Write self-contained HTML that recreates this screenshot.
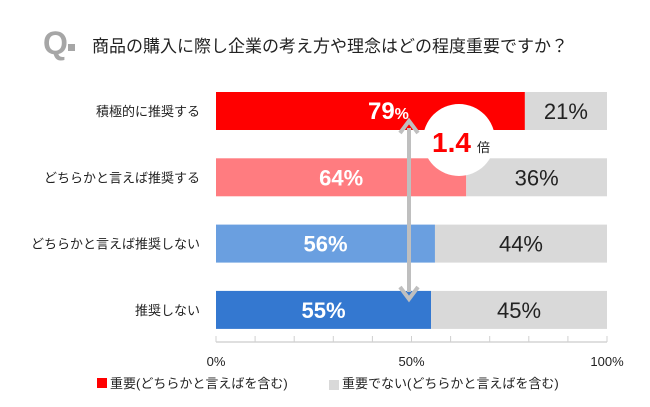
<!DOCTYPE html>
<html><head><meta charset="utf-8"><style>
body{margin:0;background:#fff;}
svg{display:block;font-family:"Liberation Sans","Noto Sans CJK JP",sans-serif;}
</style></head><body>
<svg id="c" width="650" height="407" viewBox="0 0 650 407">
<rect width="650" height="407" fill="#fff"/>
<g>
<text x="43" y="54" font-size="32" font-weight="bold" fill="#a6a6a6">Q</text>
<rect x="68" y="44" width="7" height="7" fill="#a6a6a6"/>
<text x="92" y="52" font-size="17" fill="#222">商品の購入に際し企業の考え方や理念はどの程度重要ですか？</text>
</g>
<g id="plot"></g>
</svg>
<script>
const categories=["積極的に推奨する","どちらかと言えば推奨する","どちらかと言えば推奨しない","推奨しない"];
const important=[79,64,56,55];
const notImportant=[21,36,44,45];
const ticks=[0,50,100];
const colors=["#ff0000","#ff7c80","#6a9fe0","#3478d0"];
const x0=216,x1=607,rowTop=92,rowStep=66.3,barH=38;
const xs=v=>x0+(x1-x0)*v/100;
const ns="http://www.w3.org/2000/svg";
const g=document.getElementById("plot");
function mk(t,a,txt){const e=document.createElementNS(ns,t);for(const k in a)e.setAttribute(k,a[k]);if(txt!=null)e.textContent=txt;g.appendChild(e);return e;}
categories.forEach((c,i)=>{
 const y=rowTop+i*rowStep;
 let l=mk("text",{x:200,y:y+barH/2+5,"font-size":13,"text-anchor":"end",fill:"#222"},c);
 
 
 let b=mk("rect",{x:xs(0),y:y,width:xs(important[i])-xs(0),height:barH,fill:colors[i]});
 
 
 let b2=mk("rect",{x:xs(important[i]),y:y,width:xs(important[i]+notImportant[i])-xs(important[i]),height:barH,fill:"#d9d9d9"});
 
 
 let t=mk("text",{x:(xs(0)+xs(important[i]))/2+(i==0?18:0),y:y+barH/2+8,"font-size":i==0?24:22,"font-weight":"bold","text-anchor":"middle",fill:"#fff"},important[i]);
 const s=document.createElementNS(ns,"tspan");s.setAttribute("font-size",i==0?16:22);s.textContent="%";t.appendChild(s);
 
 
 let t2=mk("text",{x:(xs(important[i])+xs(100))/2,y:y+barH/2+8,"font-size":22,"text-anchor":"middle",fill:"#222"},notImportant[i]+"%");
 
 
});
let ax=mk("line",{x1:x0,y1:342,x2:x1,y2:342,stroke:"#bfbfbf"});


for(let v=0;v<=100;v+=10){let tk=mk("line",{x1:xs(v),y1:336,x2:xs(v),y2:342,stroke:"#d0d0d0"});}
ticks.forEach(v=>{let tl=mk("text",{x:xs(v),y:366,"font-size":13,"text-anchor":"middle",fill:"#222"},v+"%");});
let ar=mk("line",{x1:409,y1:128,x2:409,y2:292,stroke:"#bfbfbf","stroke-width":4});


mk("polyline",{points:"400,133 409,121 418,133",fill:"none",stroke:"#bfbfbf","stroke-width":4});
mk("polyline",{points:"400,287 409,299 418,287",fill:"none",stroke:"#bfbfbf","stroke-width":4});
let ci=mk("circle",{cx:459,cy:140,r:36,fill:"#fff"});


let rt=mk("text",{x:432,y:152,"font-size":28,"font-weight":"bold",fill:"#ff0000"},"1.4");


mk("text",{x:477,y:152,"font-size":13,fill:"#222"},"倍");
let lg1=mk("rect",{x:97,y:378,width:10,height:10,fill:"#ff0000"});


let lt1=mk("text",{x:110,y:388,"font-size":13,fill:"#222"},"重要(どちらかと言えばを含む)");


let lg2=mk("rect",{x:329,y:380,width:10,height:10,fill:"#d9d9d9"});


let lt2=mk("text",{x:342,y:388,"font-size":13,fill:"#222"},"重要でない(どちらかと言えばを含む)");


</script>
</body></html>
